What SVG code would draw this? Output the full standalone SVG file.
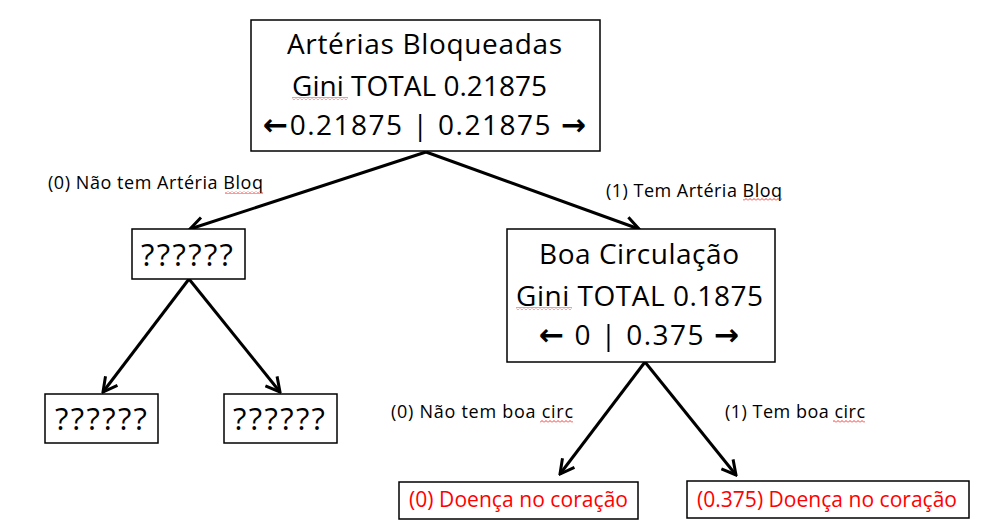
<svg xmlns="http://www.w3.org/2000/svg" width="985" height="532" viewBox="0 0 985 532">
<style>
.box{fill:#fff;stroke:#000;stroke-width:1.5}
.big{font-family:"Open Sans","Liberation Sans",sans-serif;font-size:28px;fill:#000}
.q{font-family:"Open Sans","Liberation Sans",sans-serif;font-size:31px;fill:#000}
.lbl{font-family:"Open Sans","Liberation Sans",sans-serif;font-size:18px;fill:#000}
.red{font-family:"Open Sans","Liberation Sans",sans-serif;font-size:21px;fill:#ff0000}
.arr{font-family:"DejaVu Sans",sans-serif;font-weight:bold;font-size:30px}
.edge{stroke:#000;stroke-width:3;fill:none;marker-end:url(#ah)}
.sq{fill:url(#squig)}
</style>
<defs>
<marker id="ah" markerUnits="userSpaceOnUse" viewBox="0 0 18 18" refX="16" refY="9" markerWidth="18" markerHeight="18" orient="auto">
<path d="M2,1.5 L16,9 L2,16.5" fill="none" stroke="#000" stroke-width="3"/>
</marker>
<pattern id="squig" width="4" height="3" patternUnits="userSpaceOnUse">
<path d="M0,2.5 L2,0.5 L4,2.5" fill="none" stroke="#ff0000" stroke-width="0.8"/>
</pattern>
</defs>
<g id="connectors">
<line class="edge" x1="426" y1="152" x2="190" y2="229"/>
<line class="edge" x1="426" y1="152" x2="639" y2="229"/>
<line class="edge" x1="189" y1="279" x2="103" y2="392"/>
<line class="edge" x1="189" y1="279" x2="280" y2="392"/>
<line class="edge" x1="645" y1="362" x2="560" y2="474"/>
<line class="edge" x1="645" y1="362" x2="736" y2="475"/>
</g>
<g id="edge-labels">
<text class="lbl" x="48" y="189" textLength="215" lengthAdjust="spacing">(0) Não tem Artéria Bloq</text>
<rect class="sq" x="225" y="191" width="38" height="3"/>
<text class="lbl" x="606" y="197" textLength="176" lengthAdjust="spacing">(1) Tem Artéria Bloq</text>
<rect class="sq" x="743" y="198" width="39" height="3"/>
<text class="lbl" x="391" y="418" textLength="182" lengthAdjust="spacing">(0) Não tem boa circ</text>
<rect class="sq" x="540" y="420" width="33" height="3"/>
<text class="lbl" x="725" y="418" textLength="140" lengthAdjust="spacing">(1) Tem boa circ</text>
<rect class="sq" x="833" y="420" width="32" height="3"/>
</g>
<g id="root">
<rect class="box" x="251" y="20" width="349" height="131"/>
<text class="big" x="287" y="54" textLength="275" lengthAdjust="spacing">Artérias Bloqueadas</text>
<text class="big" x="292" y="96" textLength="255" lengthAdjust="spacing">Gini TOTAL 0.21875</text>
<rect class="sq" x="292" y="97" width="56" height="3"/>
<text class="big" x="263" y="135" textLength="323" lengthAdjust="spacing"><tspan class="arr">←</tspan>0.21875 | 0.21875 <tspan class="arr">→</tspan></text>
</g>
<g id="unknown-left">
<rect class="box" x="132" y="229" width="113" height="50"/>
<text class="q" x="141" y="266" textLength="92" lengthAdjust="spacing">??????</text>
</g>
<g id="boa-circulacao">
<rect class="box" x="507" y="229" width="268" height="133"/>
<text class="big" x="539" y="264" textLength="200" lengthAdjust="spacing">Boa Circulação</text>
<text class="big" x="516" y="306" textLength="247" lengthAdjust="spacing">Gini TOTAL 0.1875</text>
<rect class="sq" x="516" y="307" width="56" height="3"/>
<text class="big" x="539" y="345" textLength="200" lengthAdjust="spacing"><tspan class="arr">←</tspan> 0 | 0.375 <tspan class="arr">→</tspan></text>
</g>
<g id="unknown-ll">
<rect class="box" x="45" y="394" width="113" height="49"/>
<text class="q" x="55" y="430" textLength="92" lengthAdjust="spacing">??????</text>
</g>
<g id="unknown-lr">
<rect class="box" x="224" y="394" width="113" height="49"/>
<text class="q" x="233" y="430" textLength="92" lengthAdjust="spacing">??????</text>
</g>
<g id="leaf-0">
<rect class="box" x="399" y="482" width="239" height="37"/>
<text class="red" x="409" y="507" textLength="219" lengthAdjust="spacing">(0) Doença no coração</text>
</g>
<g id="leaf-0375">
<rect class="box" x="687" y="481" width="282" height="37"/>
<text class="red" x="697" y="507" textLength="260" lengthAdjust="spacing">(0.375) Doença no coração</text>
</g>
</svg>
